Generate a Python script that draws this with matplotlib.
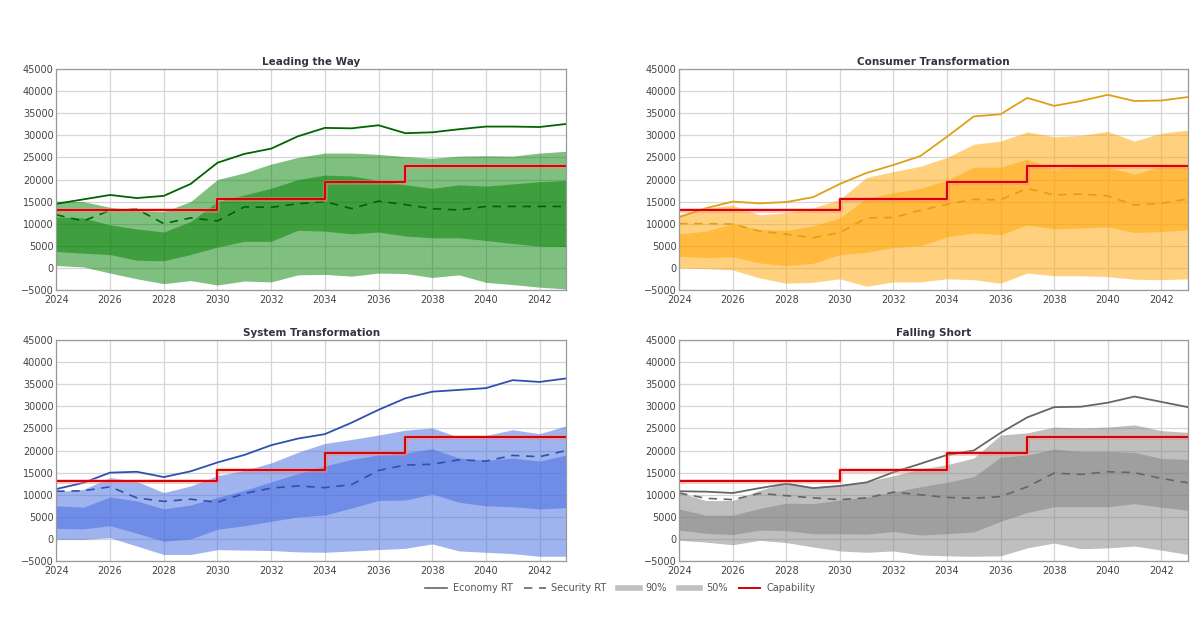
import numpy as np
import matplotlib.pyplot as plt
from matplotlib.lines import Line2D

years = np.arange(2024, 2044)

# capability step levels
cap_years = [2024, 2030, 2034, 2037, 2043]
cap_vals = [13000, 15500, 19400, 23000, 23000]

titles = ["Leading the Way", "Consumer Transformation", "System Transformation", "Falling Short"]

# Leading the Way
ltw_econ = [14500, 15500, 16500, 15800, 16300, 19000, 23800, 25800, 27000, 29800,
            31700, 31600, 32300, 30500, 30700, 31400, 32000, 32000, 31900, 32600]
ltw_sec = [12000, 10600, 13000, 13300, 10000, 11300, 10600, 13800, 13700, 14500,
           15000, 13400, 15100, 14300, 13400, 13100, 13900, 13900, 13900, 13900]
ltw_p90_hi = [15100, 15000, 13700, 13000, 12700, 15000, 20000, 21500, 23500, 25000,
              26000, 26000, 25700, 25200, 24800, 25300, 25400, 25300, 26000, 26400]
ltw_p90_lo = [500, 200, -1200, -2500, -3600, -2900, -3900, -3000, -3200, -1600,
              -1500, -1900, -1200, -1300, -2200, -1600, -3300, -3800, -4400, -4800]
ltw_p50_hi = [11500, 11300, 9700, 8800, 8100, 10500, 15000, 16500, 18000, 20000,
              21000, 20800, 19800, 18800, 18000, 18800, 18500, 19000, 19500, 19800]
ltw_p50_lo = [3700, 3300, 3000, 1700, 1600, 3000, 4700, 6000, 6000, 8500,
              8300, 7700, 8100, 7200, 6800, 6800, 6200, 5500, 4900, 4800]

# Consumer Transformation
ct_econ = [11500, 13500, 15000, 14600, 14900, 16000, 19000, 21500, 23300, 25300,
           29700, 34300, 34800, 38500, 36700, 37800, 39200, 37800, 37900, 38700]
ct_sec = [10000, 10000, 9900, 8300, 7600, 6800, 8000, 11300, 11400, 13000,
          14400, 15500, 15400, 18000, 16500, 16700, 16300, 14200, 14600, 15600]
ct_p90_hi = [12000, 13500, 14200, 12000, 12500, 13600, 15500, 20500, 21800, 23000,
             25000, 28000, 28700, 30800, 29700, 30000, 30900, 28700, 30500, 31200]
ct_p90_lo = [0, -200, -500, -2300, -3500, -3300, -2500, -4200, -3200, -3200,
             -2500, -2700, -3500, -1200, -1800, -1800, -2000, -2600, -2700, -2500]
ct_p50_hi = [7700, 8300, 10000, 8700, 8500, 9500, 11300, 15800, 17000, 18000,
             19800, 22800, 22800, 24600, 22300, 23000, 22800, 21200, 23000, 23300]
ct_p50_lo = [2600, 2300, 2500, 1100, 500, 1000, 3000, 3500, 4600, 5000,
             7000, 7900, 7500, 9700, 8800, 9000, 9300, 8000, 8200, 8600]

# System Transformation
st_econ = [11300, 12700, 15000, 15200, 14000, 15300, 17300, 19000, 21200, 22700,
           23700, 26300, 29200, 31800, 33300, 33700, 34100, 35900, 35500, 36300]
st_sec = [10800, 10900, 11800, 9300, 8500, 9000, 8300, 10300, 11500, 12000,
          11600, 12300, 15500, 16700, 16900, 17900, 17600, 18900, 18600, 20000]
st_p90_hi = [10700, 11200, 13900, 13000, 10500, 12000, 14300, 15500, 17200, 19600,
             21600, 22500, 23500, 24600, 25100, 23000, 23400, 24700, 23800, 25600]
st_p90_lo = [-100, -100, 300, -1600, -3500, -3500, -2400, -2500, -2600, -2900,
             -3000, -2700, -2400, -2100, -1100, -2700, -3000, -3300, -3900, -3900]
st_p50_hi = [7500, 7200, 9500, 8600, 6800, 7700, 9400, 11000, 12900, 14800,
             16500, 18000, 19000, 19400, 20400, 18300, 17800, 18300, 17600, 19000]
st_p50_lo = [2400, 2300, 3000, 1300, -500, 0, 2200, 3000, 4000, 5000,
             5400, 7000, 8700, 8800, 10200, 8300, 7500, 7300, 6800, 7100]

# Falling Short
fs_econ = [10800, 10700, 10400, 11500, 12500, 11500, 12000, 12800, 15100, 17000,
           19000, 20000, 24000, 27500, 29800, 29900, 30800, 32200, 31000, 29800]
fs_sec = [10400, 9200, 8900, 10300, 9800, 9300, 8900, 9300, 10600, 10000,
          9400, 9200, 9600, 11800, 14900, 14600, 15200, 15000, 13700, 12700]
fs_p90_hi = [10500, 8700, 8700, 11000, 12800, 11800, 12300, 13000, 14300, 15800,
             16800, 18300, 23500, 24000, 25300, 25100, 25300, 25800, 24500, 24100]
fs_p90_lo = [-300, -700, -1300, -300, -800, -1800, -2700, -3000, -2700, -3600,
             -3800, -3900, -3800, -2000, -900, -2200, -2000, -1600, -2500, -3500]
fs_p50_hi = [6800, 5400, 5400, 6900, 8100, 8000, 8800, 9500, 10600, 11800,
             12800, 14100, 18500, 19000, 20300, 19800, 19800, 19600, 18200, 18000]
fs_p50_lo = [2000, 1300, 1000, 2000, 1900, 1200, 1200, 1100, 1700, 900,
             1200, 1600, 4000, 6000, 7300, 7300, 7300, 8000, 7200, 6500]

panels = [
    (ltw_econ, ltw_sec, ltw_p90_hi, ltw_p90_lo, ltw_p50_hi, ltw_p50_lo, "#008000", "#006400"),
    (ct_econ, ct_sec, ct_p90_hi, ct_p90_lo, ct_p50_hi, ct_p50_lo, "#ffa500", "#e0a015"),
    (st_econ, st_sec, st_p90_hi, st_p90_lo, st_p50_hi, st_p50_lo, "#4169e1", "#3050b0"),
    (fs_econ, fs_sec, fs_p90_hi, fs_p90_lo, fs_p50_hi, fs_p50_lo, "#808080", "#666666"),
]

fig = plt.figure(figsize=(12, 6.18), dpi=100)
boxes = [
    [0.047, 0.531, 0.425, 0.357],
    [0.566, 0.531, 0.424, 0.357],
    [0.047, 0.092, 0.425, 0.358],
    [0.566, 0.092, 0.424, 0.358],
]

for box, title, (econ, sec, hi90, lo90, hi50, lo50, fill_c, line_c) in zip(boxes, titles, panels):
    ax = fig.add_axes(box)
    ax.fill_between(years, lo90, hi90, color=fill_c, alpha=0.5, lw=0)
    ax.fill_between(years, lo50, hi50, color=fill_c, alpha=0.5, lw=0)
    ax.plot(years, econ, color=line_c, lw=1.3)
    ax.plot(years, sec, color=line_c, lw=1.2, ls=(0, (5, 4)))
    ax.step(cap_years, cap_vals, where="post", color="#ff8080", lw=3.5, alpha=0.45)
    ax.step(cap_years, cap_vals, where="post", color="#d40000", lw=1.4)
    ax.set_xlim(2024, 2043)
    ax.set_ylim(-5000, 45000)
    ax.set_xticks(np.arange(2024, 2043, 2))
    ax.set_yticks(np.arange(-5000, 45001, 5000))
    ax.grid(True, color="#d6d6d6", lw=0.9)
    ax.set_axisbelow(True)
    ax.tick_params(length=0, labelsize=7, colors="#444444", pad=2)
    ax.tick_params(axis="x", pad=3.5)
    for s in ax.spines.values():
        s.set_color("#999999")
        s.set_linewidth(0.9)
    ax.set_title(title, fontsize=7.5, fontweight="bold", color="#333344", pad=3)

handles = [
    Line2D([], [], color="#666666", lw=1.2),
    Line2D([], [], color="#666666", lw=1.2, ls=(0, (5, 4))),
    Line2D([], [], color="#c0c0c0", lw=4),
    Line2D([], [], color="#c0c0c0", lw=4),
    Line2D([], [], color="#d40000", lw=1.4),
]
labels = ["Economy RT", "Security RT", "90%", "50%", "Capability"]
leg = fig.legend(handles, labels, loc="center", bbox_to_anchor=(0.517, 0.048), ncol=5,
                 frameon=False, fontsize=7, handlelength=2.2, columnspacing=1.2, handletextpad=0.6)
for t in leg.get_texts():
    t.set_color("#555555")

fig.savefig("out.png", dpi=100)
